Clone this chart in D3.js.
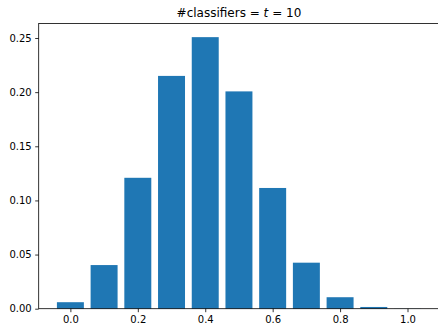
<!DOCTYPE html>
<html><head><meta charset="utf-8">
<script src="https://cdn.jsdelivr.net/npm/d3@7"></script>
<style>html,body{margin:0;padding:0;background:#fff;}svg{display:block;font-family:"DejaVu Sans",sans-serif;}</style>
</head><body>
<svg id="c" width="438" height="325"></svg>
<script>
const categories = [0.0, 0.1, 0.2, 0.3, 0.4, 0.5, 0.6, 0.7, 0.8, 0.9, 1.0];
const values = [0.0060, 0.0403, 0.1209, 0.2150, 0.2508, 0.2007, 0.1115, 0.0425, 0.0106, 0.0016, 0.0001];
const xTicks = [0.0, 0.2, 0.4, 0.6, 0.8, 1.0];
const yTicks = [0.00, 0.05, 0.10, 0.15, 0.20, 0.25];
const barWidth = 0.08;

const svg = d3.select("#c");
const L = 38.7, R = 439.2, T = 23.5, B = 308.7;
const x = d3.scaleLinear().domain([-0.094, 1.094]).range([L, R]);
const y = d3.scaleLinear().domain([0, 0.2634]).range([B, T]);

svg.append("g").selectAll("rect").data(categories).join("rect")
  .attr("x", (d) => x(d - barWidth/2))
  .attr("width", (d) => x(d + barWidth/2) - x(d - barWidth/2))
  .attr("y", (d,i) => y(values[i]))
  .attr("height", (d,i) => y(0) - y(values[i]))
  .attr("fill", "#1f77b4");

const xa = svg.append("g").attr("transform", `translate(0,${B})`)
  .call(d3.axisBottom(x).tickValues(xTicks).tickFormat(d3.format(".1f")).tickSizeOuter(0).tickSize(3.5).tickPadding(3.5));
const ya = svg.append("g").attr("transform", `translate(${L},0)`)
  .call(d3.axisLeft(y).tickValues(yTicks).tickFormat(d3.format(".2f")).tickSizeOuter(0).tickSize(3.5).tickPadding(3.5));
[xa, ya].forEach(a => {
  a.select(".domain").remove();
  a.selectAll("line").attr("stroke", "#000").attr("stroke-width", 0.8);
  a.selectAll("text").attr("font-size", 10).attr("fill", "#000").attr("font-family", "DejaVu Sans");
});

// spines
svg.append("rect").attr("x", L).attr("y", T).attr("width", R - L).attr("height", B - T)
  .attr("fill", "none").attr("stroke", "#000").attr("stroke-width", 0.8);

const title = svg.append("text").attr("x", (L + R) / 2).attr("y", 17)
  .attr("text-anchor", "middle").attr("font-size", 12).attr("fill", "#000");
title.append("tspan").text("#classifiers = ");
title.append("tspan").attr("font-style", "italic").text("t");
title.append("tspan").text(" = 10");
</script>
</body></html>
